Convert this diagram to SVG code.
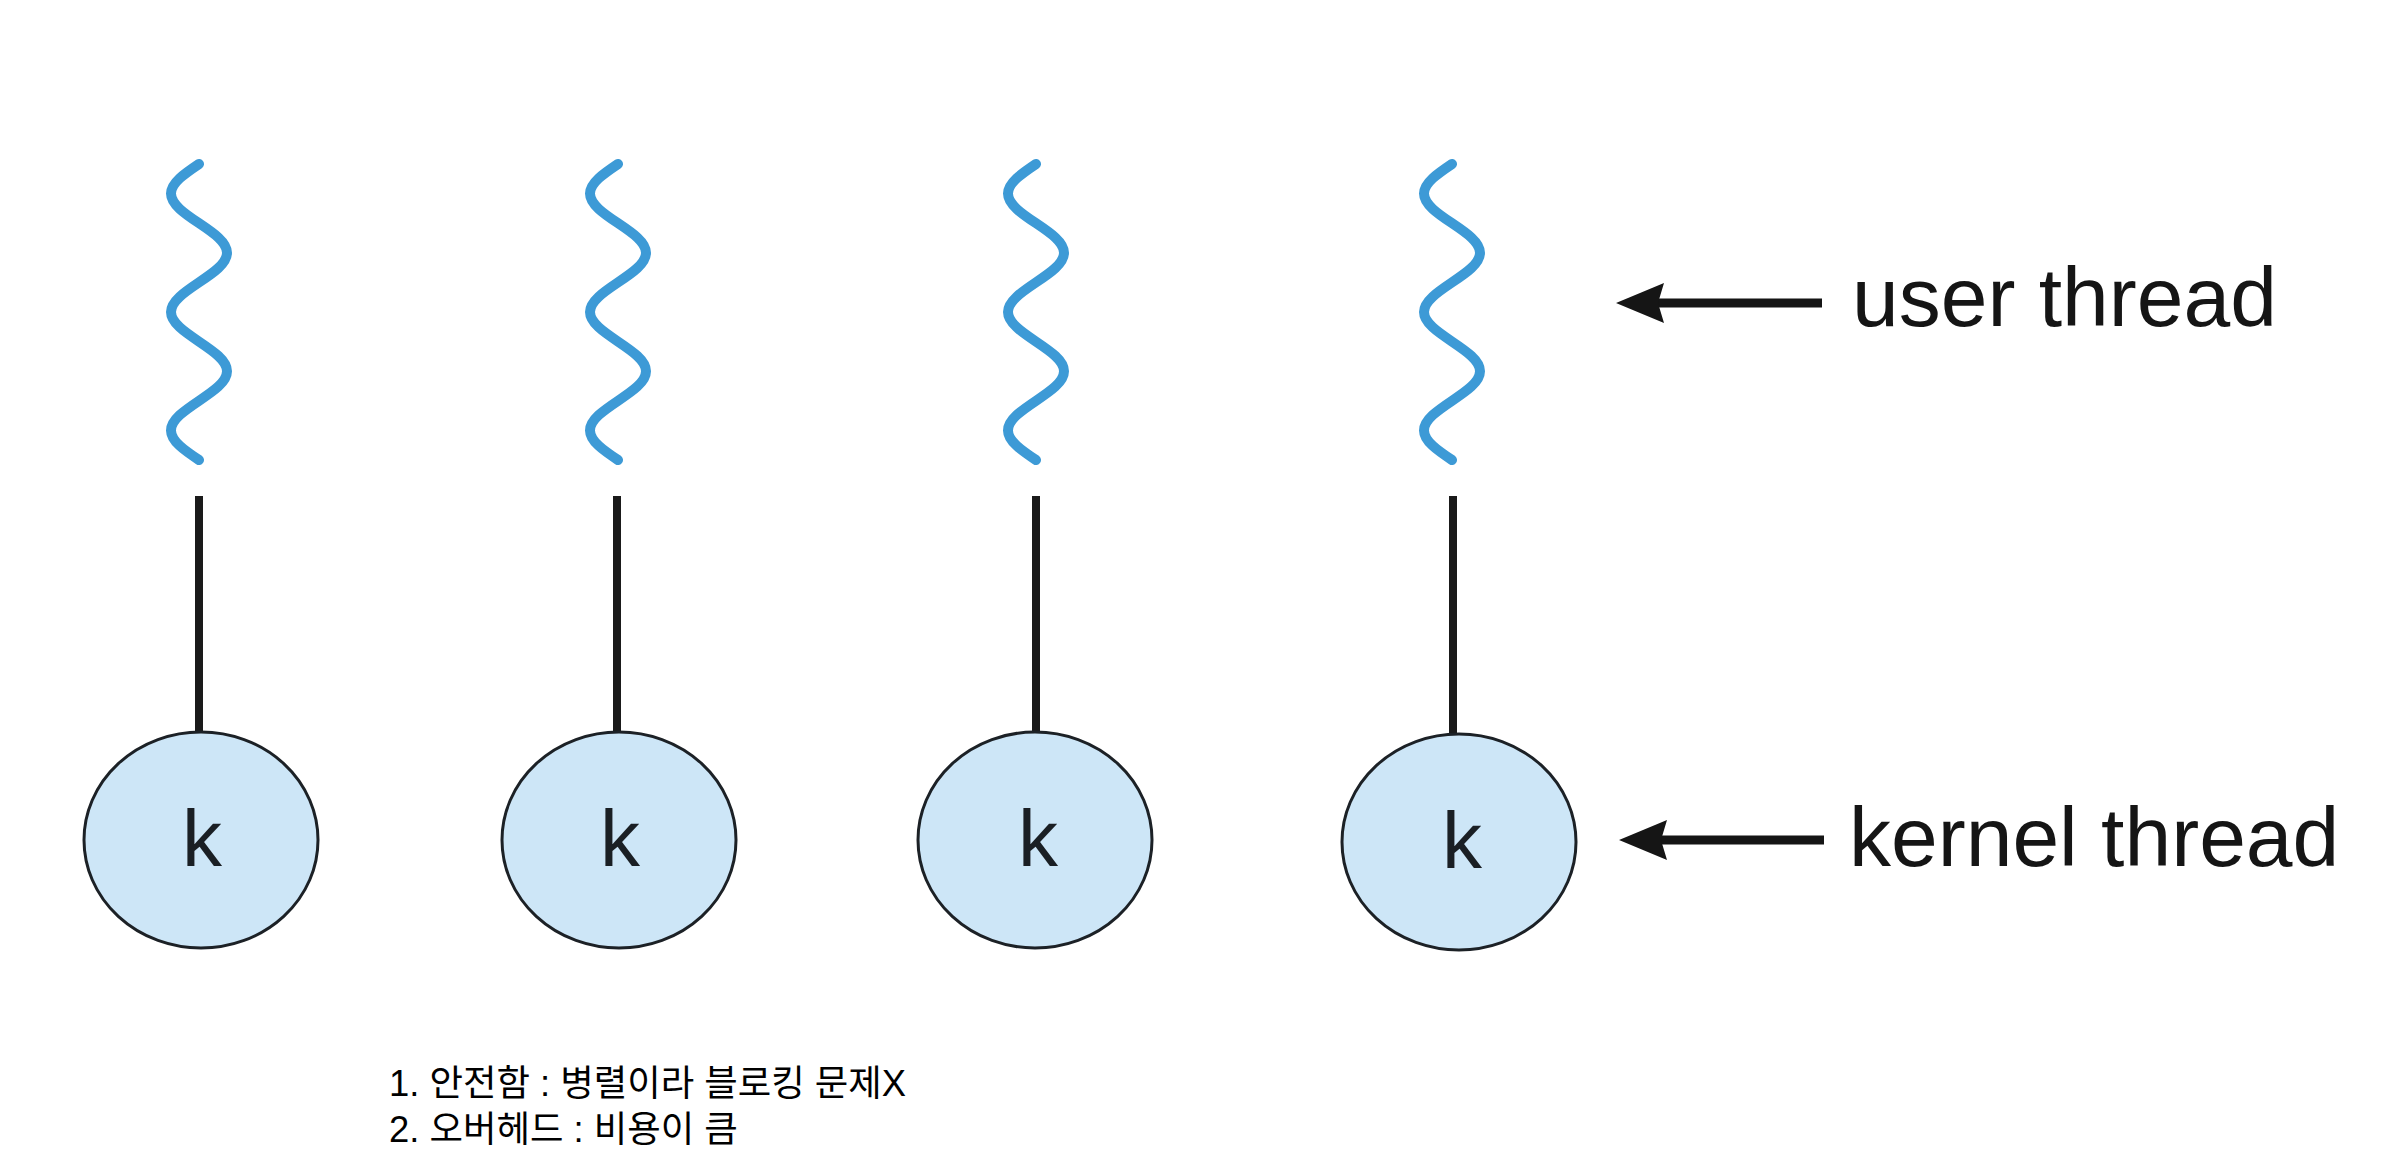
<svg xmlns="http://www.w3.org/2000/svg" xmlns:xlink="http://www.w3.org/1999/xlink" width="2390" height="1168" viewBox="0 0 2390 1168">
<style>
.wave{fill:none;stroke:#3d9ad6;stroke-width:10;stroke-linecap:round;stroke-linejoin:round}
.stem{stroke:#1a1a1a;stroke-width:8}
.kt{fill:#cde6f7;stroke:#1c2126;stroke-width:3}
.k{font-family:"Liberation Sans",Arial,sans-serif;font-size:80px;fill:#1a1f24;text-anchor:middle}
.lbl{font-family:"Liberation Sans",Arial,sans-serif;font-size:84px;fill:#151515}
.arr{stroke:#151515;stroke-width:9;fill:none}
.note{font-family:"Liberation Sans","Noto Sans CJK KR",sans-serif;font-size:36.4px;fill:#000}
</style>
<defs>
<path id="wave" d="M0,0 c-14.34,9.65 -28,18.88 -28,29.6 c0,10.72 13.66,19.95 28,29.6 c14.34,9.65 28,18.88 28,29.6 c0,10.72 -13.66,19.95 -28,29.6 c-14.34,9.65 -28,18.88 -28,29.6 c0,10.72 13.66,19.95 28,29.6 c14.34,9.65 28,18.88 28,29.6 c0,10.72 -13.66,19.95 -28,29.6 c-14.34,9.65 -28,18.88 -28,29.6 c0,10.72 13.66,19.95 28,29.6"/>
<marker id="ah" markerUnits="userSpaceOnUse" markerWidth="50" markerHeight="44" refX="28" refY="22" orient="auto" viewBox="0 0 50 44">
<path d="M48,22 L0,2 L6,22 L0,42 Z" fill="#151515"/>
</marker>
</defs>
<g id="thread1">
<use xlink:href="#wave" href="#wave" class="wave" x="199" y="164"/>
<line class="stem" x1="199" y1="496" x2="199" y2="734"/>
<ellipse class="kt" cx="201" cy="840" rx="117" ry="108"/>
<text class="k" x="202" y="866">k</text>
</g>
<g id="thread2">
<use xlink:href="#wave" href="#wave" class="wave" x="618" y="164"/>
<line class="stem" x1="617" y1="496" x2="617" y2="734"/>
<ellipse class="kt" cx="619" cy="840" rx="117" ry="108"/>
<text class="k" x="620" y="866">k</text>
</g>
<g id="thread3">
<use xlink:href="#wave" href="#wave" class="wave" x="1036" y="164"/>
<line class="stem" x1="1036" y1="496" x2="1036" y2="734"/>
<ellipse class="kt" cx="1035" cy="840" rx="117" ry="108"/>
<text class="k" x="1038" y="866">k</text>
</g>
<g id="thread4">
<use xlink:href="#wave" href="#wave" class="wave" x="1452" y="164"/>
<line class="stem" x1="1453" y1="496" x2="1453" y2="735"/>
<ellipse class="kt" cx="1459" cy="842" rx="117" ry="108"/>
<text class="k" x="1462" y="868">k</text>
</g>
<g id="label-user">
<text class="lbl" x="1852" y="326">user thread</text>
</g>
<g id="label-kernel">
<text class="lbl" x="1849" y="866">kernel thread</text>
</g>
<g id="connectors">
<line class="arr" x1="1822" y1="303" x2="1636" y2="303" marker-end="url(#ah)"/>
<line class="arr" x1="1824" y1="840" x2="1639" y2="840" marker-end="url(#ah)"/>
</g>
<g id="notes">
<text class="note" x="389" y="1096">1. 안전함 : 병렬이라 블로킹 문제X</text>
<text class="note" x="389" y="1142">2. 오버헤드 : 비용이 큼</text>
</g>
</svg>
